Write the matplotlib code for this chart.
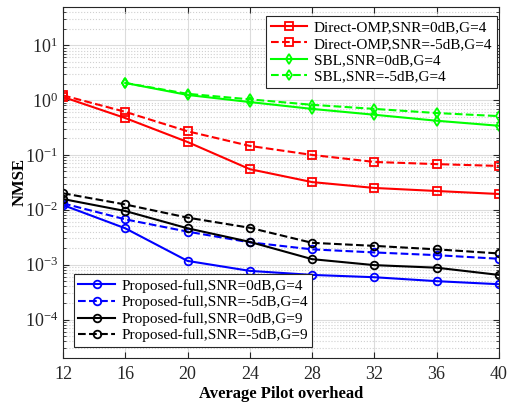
import matplotlib
matplotlib.use("Agg")
import matplotlib.pyplot as plt
from matplotlib.ticker import LogLocator, NullFormatter
import numpy as np

plt.rcParams['font.family'] = ['Liberation Serif', 'DejaVu Serif']
plt.rcParams['mathtext.fontset'] = 'custom'
plt.rcParams['mathtext.rm'] = 'Liberation Serif'

pilot = [12, 16, 20, 24, 28, 32, 36, 40]
pilot_sbl = [16, 20, 24, 28, 32, 36, 40]

omp_0db = [1.14, 0.47, 0.172, 0.055, 0.032, 0.025, 0.022, 0.0194]
omp_m5db = [1.22, 0.61, 0.27, 0.146, 0.1, 0.0745, 0.068, 0.063]
sbl_0db = [2.05, 1.24, 0.92, 0.69, 0.54, 0.42, 0.34]
sbl_m5db = [2.05, 1.3, 1.03, 0.82, 0.69, 0.58, 0.51]

prop_g4_0db = [0.0122, 0.0046, 0.00117, 0.00077, 0.00065, 0.00059, 0.0005, 0.00044]
prop_g4_m5db = [0.0131, 0.0067, 0.004, 0.00255, 0.0019, 0.00167, 0.00149, 0.00128]
prop_g9_0db = [0.0157, 0.0095, 0.0046, 0.0026, 0.00126, 0.00098, 0.00088, 0.00065]
prop_g9_m5db = [0.02, 0.0125, 0.0072, 0.0047, 0.0025, 0.0022, 0.0019, 0.0016]

ytick_vals = [1e-4, 1e-3, 1e-2, 1e-1, 1e0, 1e1]

fig = plt.figure(figsize=(5.08, 4.03), dpi=100)
ax = fig.add_axes([0.124, 0.112, 0.858, 0.871])

lw = 1.5
ms = 5.5
kw = dict(linewidth=lw, markersize=ms, markerfacecolor='none', markeredgewidth=1.3)

h1, = ax.plot(pilot, omp_0db, '-s', color='red', label='Direct-OMP,SNR=0dB,G=4', **kw)
h2, = ax.plot(pilot, omp_m5db, '--s', color='red', label='Direct-OMP,SNR=-5dB,G=4', **kw)
h3, = ax.plot(pilot_sbl, sbl_0db, '-d', color='#00ff00', label='SBL,SNR=0dB,G=4', **kw)
h4, = ax.plot(pilot_sbl, sbl_m5db, '--d', color='#00ff00', label='SBL,SNR=-5dB,G=4', **kw)
h5, = ax.plot(pilot, prop_g4_0db, '-o', color='blue', label='Proposed-full,SNR=0dB,G=4', **kw)
h6, = ax.plot(pilot, prop_g4_m5db, '--o', color='blue', label='Proposed-full,SNR=-5dB,G=4', **kw)
h7, = ax.plot(pilot, prop_g9_0db, '-o', color='black', label='Proposed-full,SNR=0dB,G=9', **kw)
h8, = ax.plot(pilot, prop_g9_m5db, '--o', color='black', label='Proposed-full,SNR=-5dB,G=9', **kw)

ax.set_yscale('log')
ax.set_xlim(12, 40)
ax.set_ylim(2e-5, 50)
ax.set_xticks(pilot)
ax.set_yticks(ytick_vals)
ax.yaxis.set_minor_locator(LogLocator(base=10, subs=np.arange(2, 10), numticks=20))
ax.yaxis.set_minor_formatter(NullFormatter())

ax.grid(which='major', color='#dcdcdc', linestyle='-', linewidth=0.8)
ax.grid(which='minor', axis='y', color='#d0d0d0', linestyle=':', linewidth=0.8)
ax.set_axisbelow(True)

ax.tick_params(which='both', direction='in', top=True, right=True, labelsize=13, colors='#262626')
ax.tick_params(axis='x', pad=6)
ax.tick_params(which='minor', length=2)
ax.tick_params(which='major', length=4)
for sp in ax.spines.values():
    sp.set_color('#262626')
    sp.set_linewidth(0.8)

ax.set_xlabel('Average Pilot overhead', fontsize=12, fontweight='bold', labelpad=2)
ax.set_ylabel('NMSE', fontsize=12, fontweight='bold', labelpad=-2)

legkw = dict(fontsize=11, fancybox=False, edgecolor='#262626', framealpha=1,
             borderpad=0.3, labelspacing=0.18, handlelength=2.4, handletextpad=0.4,
             borderaxespad=0)
leg1 = ax.legend(handles=[h1, h2, h3, h4], loc='upper right',
                 bbox_to_anchor=(0.995, 0.974), **legkw)
leg1.get_frame().set_linewidth(0.8)
ax.add_artist(leg1)
leg2 = ax.legend(handles=[h5, h6, h7, h8], loc='lower left',
                 bbox_to_anchor=(0.025, 0.031), **legkw)
leg2.get_frame().set_linewidth(0.8)

fig.savefig('out.png', dpi=100)
